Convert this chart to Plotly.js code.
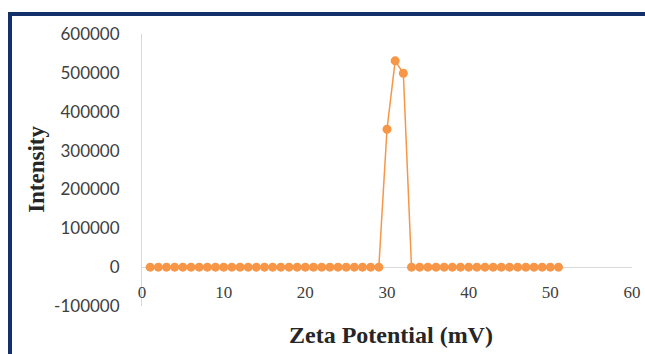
<!DOCTYPE html>
<html>
<head>
<meta charset="utf-8">
<script src="https://cdn.plot.ly/plotly-3.0.1.min.js"></script>
<style>
html,body{margin:0;padding:0;background:#fff;overflow:hidden;}
#wrap{position:relative;width:645px;height:354px;}
#chart{position:absolute;left:0;top:0;width:645px;height:354px;}
#frame{position:absolute;left:8px;top:12px;width:700px;height:400px;border-left:4px solid #14306a;border-top:4px solid #14306a;pointer-events:none;}
</style>
</head>
<body>
<div id="wrap"><div id="chart"></div><div id="frame"></div></div>
<script>
// Zeta potential (mV)
const zeta = [1,2,3,4,5,6,7,8,9,10,11,12,13,14,15,16,17,18,19,20,21,22,23,24,25,26,27,28,29,30,31,32,33,34,35,36,37,38,39,40,41,42,43,44,45,46,47,48,49,50,51];
// Intensity
const intensity = [0,0,0,0,0,0,0,0,0,0,0,0,0,0,0,0,0,0,0,0,0,0,0,0,0,0,0,0,0,355000,531000,499000,0,0,0,0,0,0,0,0,0,0,0,0,0,0,0,0,0,0,0];
const xTicks = [0,10,20,30,40,50,60];
const yTicks = [-100000,0,100000,200000,300000,400000,500000,600000];
const xTitle = "Zeta Potential (mV)";
const yTitle = "Intensity";

const trace = {
  x: zeta, y: intensity, type: 'scatter', mode: 'lines+markers',
  line: {color: '#F79646', width: 1.5},
  marker: {color: '#F79646', size: 9},
  hoverinfo: 'none'
};

const layout = {
  width: 645, height: 354,
  margin: {l: 142, r: 13, t: 34, b: 47.5},
  paper_bgcolor: '#ffffff', plot_bgcolor: '#ffffff',
  showlegend: false,
  xaxis: {
    range: [0, 60], tickvals: xTicks, ticktext: xTicks.map(String),
    showline: false, showgrid: false, zeroline: false, ticks: '',
    anchor: 'free', position: 0.095,
    tickfont: {family: 'Liberation Serif, Times New Roman, serif', size: 17, color: '#404040'}
  },
  yaxis: {
    range: [-100000, 600000], tickvals: yTicks, ticktext: yTicks.map(String),
    showline: true, linecolor: '#d9d9d9', linewidth: 1,
    showgrid: false, zeroline: true, zerolinecolor: '#d9d9d9', zerolinewidth: 1,
    ticks: '', ticklabelstandoff: 18,
    tickfont: {family: 'Lato, Liberation Sans, sans-serif', size: 17, color: '#404040'}
  },
  annotations: [
    {text: '<b>' + xTitle + '</b>', xref: 'paper', yref: 'paper', x: 0.508, y: -0.108,
     xanchor: 'center', yanchor: 'middle', showarrow: false,
     font: {family: 'Liberation Serif, Times New Roman, serif', size: 24, color: '#262626'}},
    {text: '<b>' + yTitle + '</b>', xref: 'paper', yref: 'paper', x: -0.214, y: 0.501,
     xanchor: 'center', yanchor: 'middle', showarrow: false, textangle: -90,
     font: {family: 'Liberation Serif, Times New Roman, serif', size: 23, color: '#262626'}}
  ]
};

Plotly.newPlot('chart', [trace], layout, {displayModeBar: false, staticPlot: true});
</script>
</body>
</html>
